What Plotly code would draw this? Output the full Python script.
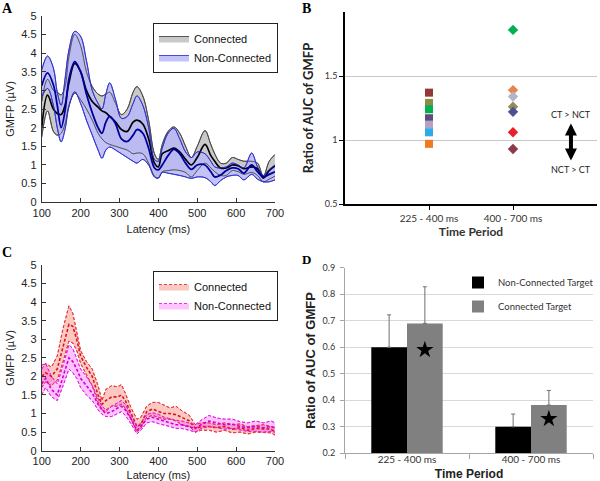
import plotly.graph_objects as go

# ---------------- Panel A data (GMFP, µV) ----------------
lat_a = [100, 115, 130, 140, 150, 160, 170, 185, 200, 215,
         230, 245, 255, 265, 275, 290, 305, 320, 335, 345,
         360, 375, 390, 400, 410, 425, 440, 455, 470, 485,
         500, 520, 535, 545, 560, 575, 590, 605, 620, 640,
         655, 670, 685, 700]
conn_hi_a = [2.7, 3.3, 3.0, 2.95, 2.88, 3.1, 3.9, 4.5, 4.2, 3.5,
             3.1, 2.9, 2.85, 2.9, 2.95, 2.65, 2.35, 2.5, 2.95, 3.1,
             2.85, 2.2, 1.3, 1.15, 1.55, 1.9, 2.02, 1.85, 1.5, 1.2,
             1.5, 1.92, 1.55, 1.3, 1.05, 1.05, 1.2, 1.15, 1.1, 1.1,
             1.05, 0.7, 1.1, 1.28]
conn_mean_a = [2.0, 2.87, 2.5, 2.38, 2.35, 2.6, 3.2, 3.72, 3.5, 3.0,
               2.7, 2.55, 2.45, 2.4, 2.3, 2.15, 1.95, 1.9, 2.15, 2.2,
               2.1, 1.7, 1.05, 0.95, 1.3, 1.38, 1.45, 1.35, 1.15, 1.0,
               1.2, 1.55, 1.25, 1.1, 0.92, 0.92, 1.0, 0.98, 0.9, 0.95,
               0.9, 0.65, 0.85, 0.97]
conn_lo_a = [1.75, 2.45, 1.9, 1.8, 1.85, 2.1, 2.6, 2.92, 2.75, 2.5,
             2.2, 1.85, 1.7, 1.6, 1.55, 1.5, 1.45, 1.4, 1.3, 1.32,
             1.3, 1.05, 0.7, 0.65, 0.82, 0.85, 0.87, 0.85, 0.8, 0.68,
             0.85, 1.05, 0.92, 0.82, 0.72, 0.72, 0.85, 0.82, 0.75, 0.8,
             0.72, 0.55, 0.62, 0.7]
nc_hi_a = [3.54, 3.92, 3.6, 2.95, 2.6, 3.3, 4.08, 4.58, 4.45, 3.8,
           3.0, 2.65, 2.5, 2.9, 3.2, 2.75, 2.25, 2.3, 2.65, 2.85,
           2.6, 2.0, 1.15, 1.1, 1.45, 1.85, 1.98, 1.7, 1.35, 1.2,
           1.35, 1.3, 1.1, 0.95, 0.92, 0.95, 1.05, 1.0, 0.92, 1.32,
           0.95, 0.72, 0.88, 1.0]
nc_mean_a = [3.12, 3.47, 3.15, 2.6, 2.0, 2.45, 3.3, 3.77, 3.5, 2.9,
             2.4, 2.0, 1.85, 2.15, 2.3, 2.1, 1.7, 1.63, 1.8, 1.95,
             1.85, 1.45, 0.92, 0.87, 1.0, 1.25, 1.42, 1.3, 1.05, 0.88,
             1.0, 1.0, 0.82, 0.68, 0.73, 0.85, 0.92, 0.9, 0.78, 1.0,
             0.82, 0.68, 0.75, 0.82]
nc_lo_a = [2.83, 3.05, 2.6, 2.0, 1.62, 1.95, 2.56, 2.96, 2.65, 2.2,
           1.8, 1.4, 1.18, 1.4, 1.48, 1.4, 1.3, 1.2, 1.1, 1.05,
           1.15, 1.0, 0.68, 0.65, 0.8, 0.78, 0.75, 0.72, 0.68, 0.64,
           0.68, 0.66, 0.55, 0.45, 0.58, 0.68, 0.72, 0.72, 0.6, 0.75,
           0.62, 0.55, 0.55, 0.6]

# ---------------- Panel C data (GMFP, µV) ----------------
lat_c = [100, 110, 125, 140, 155, 170, 180, 190, 200, 215,
         230, 245, 255, 265, 280, 295, 305, 315, 330, 345,
         355, 370, 385, 400, 415, 430, 445, 460, 480, 495,
         510, 530, 550, 570, 590, 610, 630, 650, 670, 690,
         700]
conn_hi_c = [2.2, 2.35, 2.25, 2.55, 3.3, 3.9, 3.7, 3.2, 2.7, 2.4,
             2.2, 1.75, 1.35, 1.65, 1.75, 1.72, 1.78, 1.55, 1.15, 0.85,
             0.9, 1.2, 1.3, 1.3, 1.22, 1.15, 1.2, 1.08, 0.95, 0.7,
             0.75, 0.75, 0.7, 0.75, 0.7, 0.72, 0.65, 0.68, 0.7, 0.65,
             0.6]
conn_mean_c = [2.0, 2.1, 2.0, 2.2, 2.8, 3.4, 3.35, 3.0, 2.55, 2.25,
               2.0, 1.5, 1.25, 1.35, 1.45, 1.45, 1.5, 1.35, 1.0, 0.65,
               0.7, 1.05, 1.12, 1.05, 1.0, 1.0, 0.97, 0.9, 0.8, 0.6,
               0.65, 0.65, 0.62, 0.65, 0.58, 0.62, 0.55, 0.6, 0.6, 0.58,
               0.5]
conn_lo_c = [1.7, 1.85, 1.75, 1.9, 2.4, 2.95, 2.9, 2.7, 2.35, 2.05,
             1.75, 1.3, 1.1, 1.05, 1.2, 1.2, 1.25, 1.15, 0.85, 0.5,
             0.6, 0.9, 0.95, 0.9, 0.85, 0.85, 0.8, 0.7, 0.65, 0.5,
             0.55, 0.55, 0.5, 0.55, 0.48, 0.5, 0.45, 0.5, 0.5, 0.48,
             0.42]
nc_hi_c = [2.3, 2.35, 2.0, 1.8, 2.3, 2.85, 2.75, 2.5, 2.2, 2.0,
           1.75, 1.4, 1.2, 1.1, 1.2, 1.3, 1.35, 1.25, 0.95, 0.65,
           0.75, 0.98, 1.02, 0.98, 0.9, 0.85, 0.82, 0.8, 0.75, 0.7,
           0.82, 0.95, 0.88, 0.85, 0.85, 0.78, 0.75, 0.8, 0.75, 0.8,
           0.75]
nc_mean_c = [1.8, 1.95, 1.65, 1.5, 2.0, 2.5, 2.4, 2.2, 1.95, 1.75,
             1.55, 1.25, 1.1, 1.0, 1.05, 1.15, 1.2, 1.1, 0.85, 0.55,
             0.65, 0.85, 0.9, 0.85, 0.8, 0.75, 0.7, 0.7, 0.65, 0.6,
             0.7, 0.8, 0.75, 0.7, 0.72, 0.65, 0.62, 0.65, 0.62, 0.65,
             0.62]
nc_lo_c = [1.5, 1.7, 1.45, 1.35, 1.75, 2.2, 2.1, 1.95, 1.7, 1.5,
           1.35, 1.1, 0.98, 0.92, 0.92, 1.0, 1.05, 0.95, 0.72, 0.45,
           0.55, 0.75, 0.78, 0.73, 0.7, 0.65, 0.6, 0.6, 0.55, 0.5,
           0.6, 0.65, 0.62, 0.58, 0.6, 0.55, 0.52, 0.52, 0.5, 0.52,
           0.5]

# ---------------- Panel B data (ratio of AUC per subject) ----------------
period_labels = ["225 - 400 ms", "400 - 700 ms"]
early_ratios = [1.37, 1.29, 1.24, 1.17, 1.12, 1.06, 0.97]
late_ratios = [1.86, 1.39, 1.34, 1.26, 1.22, 1.06, 0.93]
early_colors = ["#953735", "#8f8c4a", "#00b050", "#604a7b", "#b3a2c7", "#2eaae6", "#f07a22"]
late_colors = ["#00b050", "#e8834a", "#b4b4c8", "#948a54", "#4a5096", "#e8202a", "#8e3a48"]

# ---------------- Panel D data ----------------
nct_means = [0.60, 0.30]
nct_err = [0.122, 0.048]
ct_means = [0.69, 0.382]
ct_err = [0.138, 0.055]
star_values = [0.59, 0.33]

SANS = "Liberation Sans, Arial, sans-serif"
CAL = "Lato, sans-serif"
BAR_W = 0.288

W, H = 600, 481


def fx(px):
    return px / W


def fy(py):
    return 1 - py / H


fig = go.Figure()


def band_fill(x, hi, lo, fillcolor, edgecolor, name, xa, ya, legend, dash, shape):
    fig.add_trace(go.Scatter(
        x=x, y=lo, mode="lines", xaxis=xa, yaxis=ya, showlegend=False,
        line=dict(color=edgecolor, width=0.9, dash=dash, shape=shape),
        hoverinfo="skip"))
    fig.add_trace(go.Scatter(
        x=x, y=hi, mode="lines", xaxis=xa, yaxis=ya, name=name,
        fill="tonexty", fillcolor=fillcolor, legend=legend,
        line=dict(color=edgecolor, width=0.9, dash=dash, shape=shape)))


def band_lines(x, hi, mean, lo, edgecolor, meancolor, xa, ya, dash, shape, meanw):
    for ys, col, w in [(lo, edgecolor, 0.9), (hi, edgecolor, 0.9), (mean, meancolor, meanw)]:
        fig.add_trace(go.Scatter(
            x=x, y=ys, mode="lines", xaxis=xa, yaxis=ya, showlegend=False,
            line=dict(color=col, width=w, dash=dash, shape=shape),
            hoverinfo="skip"))


# Panel A: fills first, then all lines on top
band_fill(lat_a, conn_hi_a, conn_lo_a, "#c9c9c9", "#454545", "Connected",
          "x", "y", "legend", "solid", "spline")
band_fill(lat_a, nc_hi_a, nc_lo_a, "rgba(185,185,248,0.85)", "#3a3ad0", "Non-Connected",
          "x", "y", "legend", "solid", "spline")
band_lines(lat_a, conn_hi_a, conn_mean_a, conn_lo_a, "#4a4a4a", "#000000",
           "x", "y", "solid", "spline", 1.7)
band_lines(lat_a, nc_hi_a, nc_mean_a, nc_lo_a, "#3030d0", "#0000a0",
           "x", "y", "solid", "spline", 1.8)

# Panel C
band_fill(lat_c, conn_hi_c, conn_lo_c, "rgba(240,90,70,0.33)", "#e8303a", "Connected",
          "x3", "y3", "legend2", "3px,2px", "linear")
band_fill(lat_c, nc_hi_c, nc_lo_c, "rgba(255,40,255,0.28)", "#e020e0", "Non-Connected",
          "x3", "y3", "legend2", "3px,2px", "linear")
band_lines(lat_c, conn_hi_c, conn_mean_c, conn_lo_c, "#e8303a", "#e01020",
           "x3", "y3", "3px,2px", "linear", 1.6)
band_lines(lat_c, nc_hi_c, nc_mean_c, nc_lo_c, "#e020e0", "#d000d0",
           "x3", "y3", "3px,2px", "linear", 1.6)

# Panel B
fig.add_trace(go.Scatter(
    x=[period_labels[0]] * len(early_ratios), y=early_ratios, mode="markers",
    xaxis="x2", yaxis="y2", showlegend=False,
    marker=dict(symbol="square", size=8, color=early_colors)))
fig.add_trace(go.Scatter(
    x=[period_labels[1]] * len(late_ratios), y=late_ratios, mode="markers",
    xaxis="x2", yaxis="y2", showlegend=False,
    marker=dict(symbol="diamond", size=8, color=late_colors)))

# Panel D
pos_d = list(range(len(period_labels)))
fig.add_trace(go.Bar(
    x=pos_d, y=nct_means, offset=-BAR_W, width=BAR_W, name="Non-Connected Target",
    marker=dict(color="#000000", line=dict(width=0)), xaxis="x4", yaxis="y4",
    legend="legend3", legendgroup="a",
    error_y=dict(type="data", array=nct_err, arrayminus=[0] * len(nct_err),
                 symmetric=False, color="#707070", thickness=1, width=2)))
fig.add_trace(go.Bar(
    x=pos_d, y=ct_means, offset=0, width=BAR_W, name="Connected Target",
    marker=dict(color="#808080", line=dict(width=0)), xaxis="x4", yaxis="y4",
    legend="legend3", legendgroup="b",
    error_y=dict(type="data", array=ct_err, arrayminus=[0] * len(ct_err),
                 symmetric=False, color="#707070", thickness=1, width=2)))
fig.add_trace(go.Scatter(
    x=[p + BAR_W / 2 for p in pos_d], y=star_values, mode="markers",
    xaxis="x4", yaxis="y4", showlegend=False,
    marker=dict(symbol="star", size=13, color="#000000")))

lat_ticks = [100, 200, 300, 400, 500, 600, 700]
tickfont_a = dict(family=SANS, size=11, color="#222222")


def matlab_x(y_anchor, domain):
    return dict(domain=domain, anchor=y_anchor, range=[100, 700], automargin=False,
                tickvals=lat_ticks, ticks="inside", ticklen=4,
                tickcolor="#333333", showline=True, linecolor="#333333",
                linewidth=1, showgrid=False, zeroline=False,
                tickfont=tickfont_a,
                title=dict(text="Latency (ms)", font=dict(family=SANS, size=11, color="#222222"),
                           standoff=7))


def matlab_y(x_anchor, domain):
    return dict(domain=domain, anchor=x_anchor, range=[0, 5], dtick=0.5, automargin=False,
                ticks="inside", ticklen=4, tickcolor="#333333", ticklabelstandoff=2,
                showline=True, linecolor="#333333", linewidth=1,
                showgrid=False, zeroline=False, tickfont=tickfont_a,
                title=dict(text="GMFP (µV)", font=dict(family=SANS, size=11, color="#222222"),
                           standoff=4))


legend_common = dict(bgcolor="#ffffff", bordercolor="#222222", borderwidth=1,
                     font=dict(family=SANS, size=11, color="#111111"),
                     xanchor="left", yanchor="top", itemwidth=30,
                     tracegroupgap=0, traceorder="normal")

fig.update_layout(
    width=W, height=H, margin=dict(l=0, r=0, t=0, b=0, autoexpand=False),
    paper_bgcolor="#ffffff", plot_bgcolor="#ffffff", showlegend=True,
    xaxis=matlab_x("y", [fx(41.7), fx(275)]),
    yaxis=matlab_y("x", [fy(202.3), fy(15.7)]),
    xaxis3=matlab_x("y3", [fx(41.7), fx(275)]),
    yaxis3=matlab_y("x3", [fy(450.7), fy(265)]),
    xaxis2=dict(domain=[fx(345), fx(597)], anchor="y2", type="category", automargin=False,
                range=[-1, 2], ticks="outside", ticklen=4, tickcolor="#000000",
                showline=True, linecolor="#000000", linewidth=1.5,
                showgrid=False, tickfont=dict(family=CAL, size=10, color="#333333"),
                title=dict(text="<b>Time Period</b>", font=dict(family=CAL, size=12, color="#333333"),
                           standoff=5)),
    yaxis2=dict(domain=[fy(204), fy(12)], anchor="x2", range=[0.5, 2.0], automargin=False,
                tickvals=[0.5, 1, 1.5], ticktext=["0.5", "1", "1.5"],
                ticks="outside", ticklen=4, tickcolor="#000000",
                showline=True, linecolor="#000000", linewidth=1.5,
                showgrid=True, gridcolor="#c8c8c8", gridwidth=1, zeroline=False,
                tickfont=dict(family=CAL, size=9, color="#333333"),
                title=dict(text="<b>Ratio of AUC of GMFP</b>",
                           font=dict(family=CAL, size=13, color="#222222"), standoff=8)),
    xaxis4=dict(domain=[fx(345), fx(593)], anchor="y4", range=[-0.5, 1.5], automargin=False,
                tickvals=pos_d, ticktext=period_labels, ticks="", ticklabelstandoff=-3,
                minor=dict(tick0=-0.5, dtick=1, ticks="outside", ticklen=5,
                           tickcolor="#a6a6a6", showgrid=False),
                showline=True, linecolor="#a6a6a6", linewidth=1,
                showgrid=False, zeroline=False,
                tickfont=dict(family=CAL, size=10, color="#333333"),
                title=dict(text="<b>Time Period</b>", font=dict(family=SANS, size=12, color="#222222"),
                           standoff=9)),
    yaxis4=dict(domain=[fy(453.3), fy(267.7)], anchor="x4", range=[0.2, 0.9], automargin=False,
                dtick=0.1, tickformat=".1f", ticks="outside", ticklen=4, ticklabelstandoff=3,
                tickcolor="#a6a6a6", showline=True, linecolor="#a6a6a6",
                showgrid=True, gridcolor="#d9d9d9", zeroline=False,
                tickfont=dict(family=CAL, size=9, color="#333333"),
                title=dict(text="<b>Ratio of AUC of GMFP</b>",
                           font=dict(family=SANS, size=13, color="#222222"), standoff=4)),
    legend=dict(legend_common, x=fx(153), y=fy(23)),
    legend2=dict(legend_common, x=fx(153), y=fy(271)),
    legend3=dict(bgcolor="rgba(0,0,0,0)", borderwidth=0, x=fx(458), y=fy(268),
                 xanchor="left", yanchor="top", tracegroupgap=5, itemwidth=30,
                 font=dict(family=CAL, size=9.5, color="#333333")),
)

# arrow and labels in panel B
fig.add_annotation(x=1.69, y=0.84, ax=1.69, ay=1.14, xref="x2", yref="y2",
                   axref="x2", ayref="y2", text="", showarrow=True,
                   arrowhead=2, arrowsize=0.6, arrowwidth=4, arrowcolor="#000000",
                   arrowside="end+start", startarrowhead=2, startarrowsize=0.6)
fig.add_annotation(x=1.69, y=1.2, xref="x2", yref="y2", text="CT > NCT",
                   showarrow=False, font=dict(family=CAL, size=9, color="#222222"))
fig.add_annotation(x=1.69, y=0.77, xref="x2", yref="y2", text="NCT > CT",
                   showarrow=False, font=dict(family=CAL, size=9, color="#222222"))

# panel letters (pixel positions of glyph left / centre)
for letter, px, py, size in [("A", 0, 8, 14), ("B", 300, 8, 14),
                             ("C", 0, 252, 14), ("D", 300, 259, 13)]:
    fig.add_annotation(x=fx(px), y=fy(py), xref="paper", yref="paper",
                       text="<b>%s</b>" % letter, showarrow=False,
                       xanchor="left", yanchor="middle",
                       font=dict(family="Liberation Serif, Times New Roman, serif",
                                 size=size, color="#000000"))

# the page's default 8px body margin would offset the 600x481 figure
fig.write_html("out.html", config={"displayModeBar": False},
               post_script="document.body.style.margin='0px';")
